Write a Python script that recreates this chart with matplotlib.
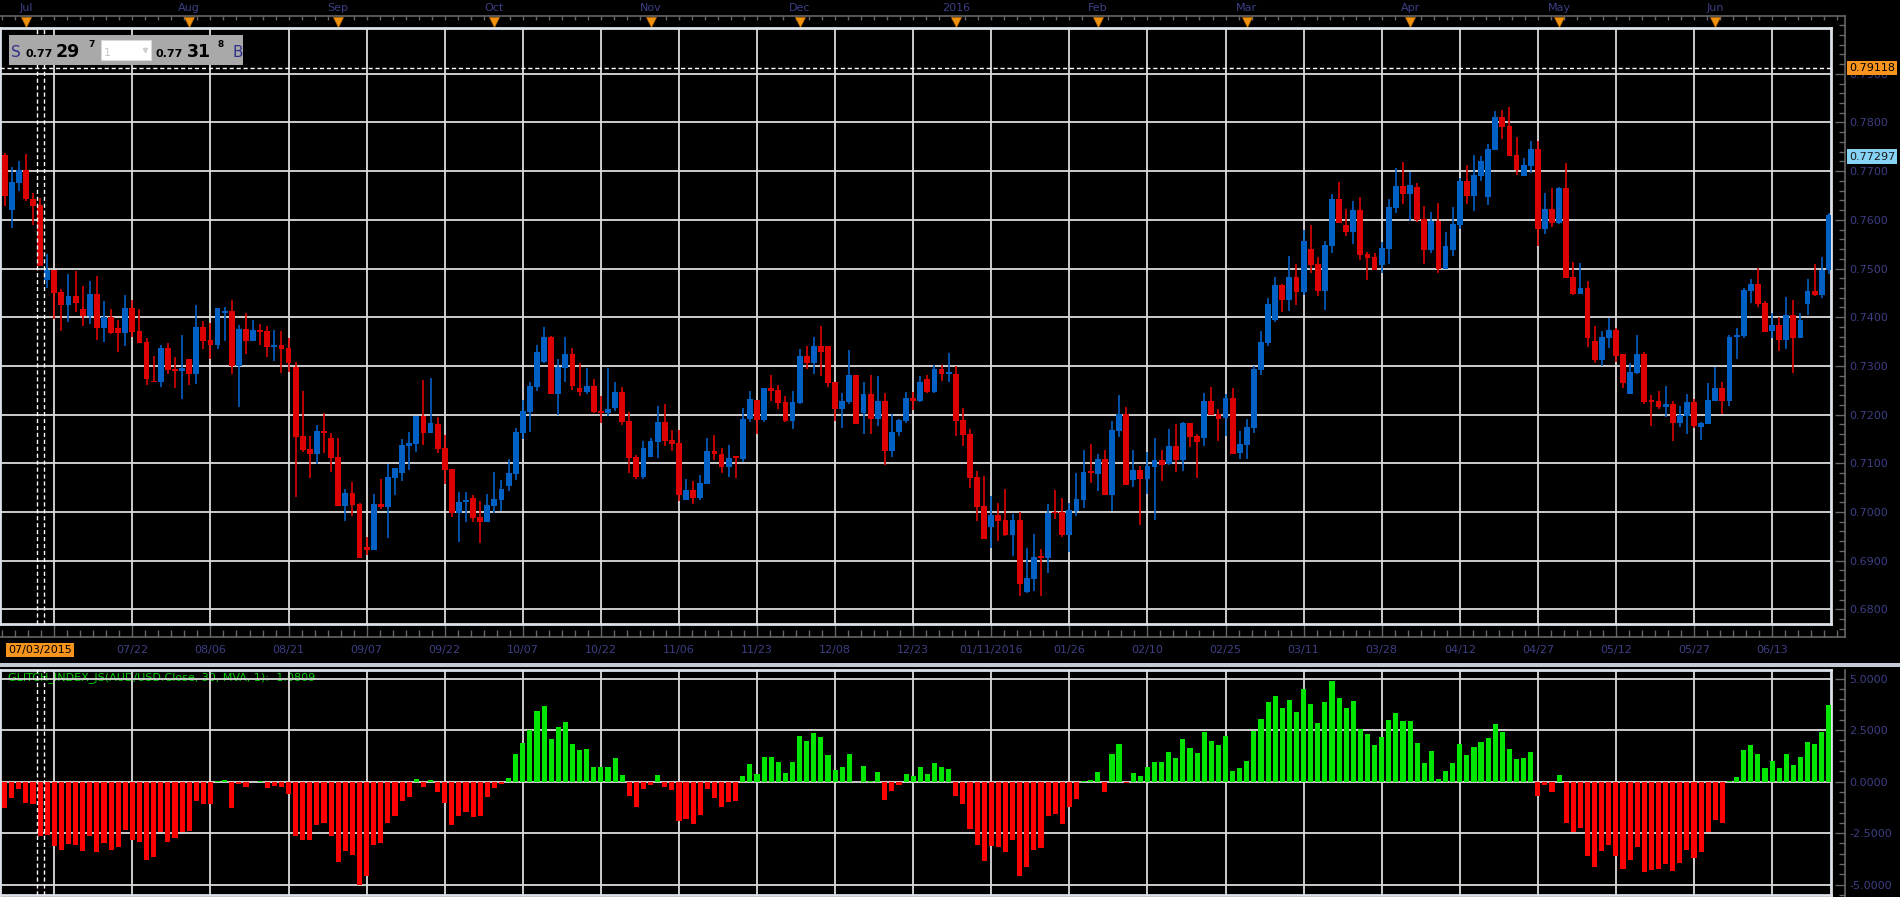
import matplotlib
matplotlib.use("Agg")
import matplotlib.pyplot as plt
import matplotlib.transforms as mtrans
from matplotlib.patches import Rectangle
from matplotlib.ticker import FixedLocator, FixedFormatter, MultipleLocator
import numpy as np
import pandas as pd

plt.rcParams['font.family'] = ['DejaVu Sans']

# trading days on the chart: weekdays, Christmas and New Year dropped
days = pd.bdate_range('2015-06-25', '2016-06-23')
days = days[~days.isin(pd.to_datetime(['2015-12-25', '2016-01-01']))]

# AUD/USD daily candles
opens = [
    0.7700, 0.7733, 0.7621, 0.7676, 0.7702, 0.7643, 0.7631, 0.7477, 0.7498, 0.7451,
    0.7426, 0.7444, 0.7416, 0.7403, 0.7448, 0.7377, 0.7401, 0.7377, 0.7367, 0.7418,
    0.7371, 0.7350, 0.7270, 0.7266, 0.7336, 0.7293, 0.7289, 0.7315, 0.7283, 0.7379,
    0.7354, 0.7342, 0.7408, 0.7412, 0.7299, 0.7375, 0.7352, 0.7373, 0.7371, 0.7338,
    0.7344, 0.7336, 0.7297, 0.7156, 0.7129, 0.7119, 0.7166, 0.7152, 0.7113, 0.7012,
    0.7039, 0.7016, 0.6928, 0.6922, 0.7016, 0.7010, 0.7070, 0.7080, 0.7135, 0.7139,
    0.7197, 0.7162, 0.7180, 0.7131, 0.7088, 0.6998, 0.7020, 0.7029, 0.6990, 0.6980,
    0.7012, 0.7025, 0.7053, 0.7078, 0.7162, 0.7205, 0.7256, 0.7309, 0.7360, 0.7242,
    0.7295, 0.7324, 0.7254, 0.7246, 0.7258, 0.7207, 0.7203, 0.7213, 0.7246, 0.7186,
    0.7113, 0.7072, 0.7113, 0.7143, 0.7184, 0.7147, 0.7141, 0.7025, 0.7045, 0.7029,
    0.7057, 0.7125, 0.7119, 0.7092, 0.7112, 0.7109, 0.7190, 0.7231, 0.7188, 0.7254,
    0.7250, 0.7225, 0.7186, 0.7223, 0.7321, 0.7305, 0.7340, 0.7340, 0.7266, 0.7211,
    0.7225, 0.7281, 0.7203, 0.7242, 0.7190, 0.7227, 0.7125, 0.7164, 0.7186, 0.7235,
    0.7229, 0.7274, 0.7246, 0.7293, 0.7284, 0.7283, 0.7188, 0.7160, 0.7072, 0.7012,
    0.6969, 0.6994, 0.6983, 0.6953, 0.6983, 0.6836, 0.6863, 0.6907, 0.6906, 0.6999,
    0.7000, 0.6953, 0.7002, 0.7025, 0.7083, 0.7078, 0.7109, 0.7035, 0.7166, 0.7201,
    0.7065, 0.7086, 0.7068, 0.7092, 0.7107, 0.7098, 0.7135, 0.7107, 0.7182, 0.7156,
    0.7152, 0.7227, 0.7201, 0.7193, 0.7235, 0.7121, 0.7137, 0.7172, 0.7291, 0.7348,
    0.7395, 0.7467, 0.7436, 0.7483, 0.7451, 0.7541, 0.7510, 0.7453, 0.7547, 0.7643,
    0.7590, 0.7575, 0.7620, 0.7530, 0.7524, 0.7508, 0.7541, 0.7625, 0.7670, 0.7653,
    0.7668, 0.7602, 0.7539, 0.7598, 0.7500, 0.7539, 0.7590, 0.7680, 0.7649, 0.7690,
    0.7647, 0.7743, 0.7811, 0.7792, 0.7733, 0.7690, 0.7711, 0.7745, 0.7582, 0.7623,
    0.7594, 0.7666, 0.7483, 0.7448, 0.7461, 0.7352, 0.7313, 0.7358, 0.7373, 0.7324,
    0.7242, 0.7285, 0.7324, 0.7228, 0.7227, 0.7215, 0.7221, 0.7182, 0.7197, 0.7225,
    0.7174, 0.7180, 0.7229, 0.7254, 0.7227, 0.7360, 0.7362, 0.7453, 0.7469, 0.7430,
    0.7371, 0.7385, 0.7354, 0.7405, 0.7358, 0.7428, 0.7453, 0.7446, 0.7496]

highs = [
    0.7736, 0.7737, 0.7709, 0.7721, 0.7735, 0.7655, 0.7644, 0.7530, 0.7498, 0.7457,
    0.7489, 0.7494, 0.7465, 0.7475, 0.7485, 0.7434, 0.7416, 0.7395, 0.7446, 0.7436,
    0.7416, 0.7358, 0.7321, 0.7342, 0.7348, 0.7319, 0.7364, 0.7315, 0.7426, 0.7393,
    0.7389, 0.7418, 0.7420, 0.7436, 0.7385, 0.7408, 0.7395, 0.7387, 0.7383, 0.7373,
    0.7371, 0.7358, 0.7309, 0.7248, 0.7156, 0.7178, 0.7203, 0.7162, 0.7152, 0.7047,
    0.7061, 0.7018, 0.6949, 0.7037, 0.7067, 0.7098, 0.7090, 0.7149, 0.7164, 0.7197,
    0.7272, 0.7276, 0.7195, 0.7158, 0.7088, 0.7041, 0.7041, 0.7035, 0.7022, 0.7037,
    0.7082, 0.7065, 0.7109, 0.7172, 0.7231, 0.7268, 0.7342, 0.7379, 0.7362, 0.7315,
    0.7360, 0.7336, 0.7305, 0.7295, 0.7274, 0.7238, 0.7295, 0.7266, 0.7256, 0.7205,
    0.7117, 0.7145, 0.7152, 0.7217, 0.7221, 0.7168, 0.7168, 0.7068, 0.7063, 0.7076,
    0.7152, 0.7158, 0.7131, 0.7137, 0.7115, 0.7213, 0.7248, 0.7231, 0.7254, 0.7281,
    0.7260, 0.7238, 0.7248, 0.7334, 0.7340, 0.7360, 0.7383, 0.7340, 0.7266, 0.7244,
    0.7332, 0.7281, 0.7268, 0.7281, 0.7279, 0.7244, 0.7201, 0.7192, 0.7246, 0.7246,
    0.7279, 0.7281, 0.7301, 0.7301, 0.7326, 0.7299, 0.7213, 0.7170, 0.7084, 0.7074,
    0.7033, 0.7018, 0.7047, 0.6996, 0.7000, 0.6926, 0.6955, 0.6924, 0.7016, 0.7045,
    0.7029, 0.7018, 0.7080, 0.7127, 0.7139, 0.7119, 0.7127, 0.7186, 0.7240, 0.7215,
    0.7127, 0.7094, 0.7123, 0.7152, 0.7127, 0.7170, 0.7180, 0.7184, 0.7182, 0.7160,
    0.7244, 0.7256, 0.7211, 0.7242, 0.7254, 0.7166, 0.7190, 0.7299, 0.7371, 0.7440,
    0.7483, 0.7469, 0.7526, 0.7510, 0.7580, 0.7590, 0.7524, 0.7557, 0.7653, 0.7678,
    0.7623, 0.7639, 0.7647, 0.7534, 0.7532, 0.7555, 0.7643, 0.7706, 0.7719, 0.7698,
    0.7676, 0.7629, 0.7616, 0.7635, 0.7575, 0.7627, 0.7686, 0.7713, 0.7733, 0.7731,
    0.7756, 0.7823, 0.7825, 0.7831, 0.7770, 0.7727, 0.7762, 0.7762, 0.7655, 0.7666,
    0.7668, 0.7717, 0.7514, 0.7512, 0.7475, 0.7383, 0.7371, 0.7399, 0.7377, 0.7324,
    0.7307, 0.7364, 0.7328, 0.7240, 0.7248, 0.7258, 0.7227, 0.7217, 0.7242, 0.7233,
    0.7184, 0.7264, 0.7297, 0.7266, 0.7364, 0.7377, 0.7461, 0.7479, 0.7502, 0.7434,
    0.7408, 0.7401, 0.7442, 0.7436, 0.7408, 0.7479, 0.7510, 0.7524, 0.7614]

lows = [
    0.7695, 0.7629, 0.7584, 0.7659, 0.7638, 0.7590, 0.7506, 0.7461, 0.7397, 0.7371,
    0.7391, 0.7410, 0.7383, 0.7387, 0.7354, 0.7350, 0.7366, 0.7328, 0.7340, 0.7360,
    0.7348, 0.7260, 0.7266, 0.7256, 0.7283, 0.7254, 0.7233, 0.7260, 0.7262, 0.7334,
    0.7315, 0.7334, 0.7352, 0.7283, 0.7215, 0.7324, 0.7352, 0.7344, 0.7319, 0.7311,
    0.7285, 0.7287, 0.7031, 0.7123, 0.7070, 0.7098, 0.7121, 0.7082, 0.7012, 0.6981,
    0.6992, 0.6906, 0.6912, 0.6922, 0.7006, 0.6947, 0.7035, 0.7063, 0.7086, 0.7123,
    0.7137, 0.7162, 0.7121, 0.7057, 0.6990, 0.6939, 0.6979, 0.6979, 0.6937, 0.6980,
    0.6998, 0.7002, 0.7043, 0.7065, 0.7149, 0.7164, 0.7248, 0.7305, 0.7242, 0.7199,
    0.7266, 0.7250, 0.7238, 0.7242, 0.7203, 0.7182, 0.7197, 0.7207, 0.7178, 0.7080,
    0.7068, 0.7068, 0.7113, 0.7111, 0.7135, 0.7125, 0.7023, 0.7025, 0.7016, 0.7025,
    0.7057, 0.7107, 0.7080, 0.7072, 0.7070, 0.7103, 0.7184, 0.7160, 0.7184, 0.7227,
    0.7211, 0.7184, 0.7170, 0.7221, 0.7293, 0.7283, 0.7279, 0.7256, 0.7186, 0.7172,
    0.7221, 0.7180, 0.7160, 0.7160, 0.7176, 0.7096, 0.7113, 0.7156, 0.7182, 0.7209,
    0.7225, 0.7244, 0.7244, 0.7270, 0.7266, 0.7156, 0.7135, 0.7049, 0.6981, 0.6945,
    0.6926, 0.6941, 0.6951, 0.6910, 0.6828, 0.6834, 0.6838, 0.6828, 0.6875, 0.6986,
    0.6949, 0.6918, 0.6992, 0.7008, 0.7059, 0.7043, 0.7035, 0.7002, 0.7154, 0.7055,
    0.7051, 0.6973, 0.7037, 0.6984, 0.7063, 0.7096, 0.7082, 0.7084, 0.7133, 0.7070,
    0.7135, 0.7199, 0.7145, 0.7156, 0.7119, 0.7109, 0.7109, 0.7162, 0.7281, 0.7340,
    0.7391, 0.7410, 0.7412, 0.7426, 0.7446, 0.7491, 0.7444, 0.7414, 0.7532, 0.7594,
    0.7567, 0.7551, 0.7518, 0.7477, 0.7498, 0.7491, 0.7510, 0.7614, 0.7633, 0.7598,
    0.7596, 0.7510, 0.7532, 0.7491, 0.7500, 0.7526, 0.7582, 0.7633, 0.7618, 0.7680,
    0.7631, 0.7743, 0.7766, 0.7731, 0.7692, 0.7690, 0.7696, 0.7547, 0.7571, 0.7586,
    0.7592, 0.7481, 0.7446, 0.7448, 0.7338, 0.7307, 0.7299, 0.7336, 0.7309, 0.7254,
    0.7242, 0.7283, 0.7221, 0.7176, 0.7211, 0.7195, 0.7145, 0.7174, 0.7160, 0.7172,
    0.7147, 0.7180, 0.7227, 0.7201, 0.7217, 0.7315, 0.7358, 0.7430, 0.7420, 0.7369,
    0.7358, 0.7330, 0.7334, 0.7285, 0.7358, 0.7405, 0.7444, 0.7440, 0.7489]

closes = [
    0.7733, 0.7650, 0.7678, 0.7702, 0.7642, 0.7629, 0.7506, 0.7498, 0.7449, 0.7426,
    0.7444, 0.7430, 0.7403, 0.7448, 0.7377, 0.7401, 0.7367, 0.7367, 0.7418, 0.7369,
    0.7348, 0.7274, 0.7266, 0.7336, 0.7291, 0.7289, 0.7295, 0.7283, 0.7379, 0.7352,
    0.7342, 0.7418, 0.7412, 0.7299, 0.7375, 0.7352, 0.7373, 0.7369, 0.7338, 0.7344,
    0.7334, 0.7307, 0.7154, 0.7127, 0.7119, 0.7166, 0.7162, 0.7111, 0.7012, 0.7039,
    0.7014, 0.6906, 0.6922, 0.7016, 0.7010, 0.7072, 0.7090, 0.7137, 0.7141, 0.7197,
    0.7162, 0.7182, 0.7129, 0.7086, 0.6998, 0.7020, 0.7021, 0.6988, 0.6980, 0.7014,
    0.7027, 0.7047, 0.7080, 0.7164, 0.7207, 0.7258, 0.7328, 0.7360, 0.7242, 0.7297,
    0.7324, 0.7258, 0.7246, 0.7258, 0.7205, 0.7203, 0.7211, 0.7246, 0.7184, 0.7111,
    0.7072, 0.7131, 0.7145, 0.7184, 0.7145, 0.7139, 0.7035, 0.7045, 0.7029, 0.7059,
    0.7125, 0.7119, 0.7092, 0.7111, 0.7110, 0.7192, 0.7233, 0.7188, 0.7254, 0.7248,
    0.7223, 0.7186, 0.7225, 0.7321, 0.7305, 0.7340, 0.7328, 0.7264, 0.7211, 0.7227,
    0.7281, 0.7180, 0.7242, 0.7190, 0.7227, 0.7125, 0.7164, 0.7188, 0.7235, 0.7229,
    0.7268, 0.7246, 0.7293, 0.7283, 0.7286, 0.7186, 0.7158, 0.7070, 0.7010, 0.6945,
    0.6994, 0.6982, 0.6953, 0.6983, 0.6852, 0.6865, 0.6908, 0.6905, 0.6998, 0.6997,
    0.6953, 0.7004, 0.7027, 0.7082, 0.7081, 0.7109, 0.7035, 0.7168, 0.7201, 0.7055,
    0.7086, 0.7068, 0.7094, 0.7107, 0.7096, 0.7135, 0.7107, 0.7182, 0.7154, 0.7143,
    0.7227, 0.7199, 0.7192, 0.7235, 0.7119, 0.7139, 0.7174, 0.7293, 0.7350, 0.7428,
    0.7467, 0.7436, 0.7483, 0.7451, 0.7557, 0.7508, 0.7453, 0.7549, 0.7643, 0.7594,
    0.7575, 0.7620, 0.7528, 0.7522, 0.7498, 0.7543, 0.7627, 0.7670, 0.7653, 0.7672,
    0.7600, 0.7539, 0.7598, 0.7500, 0.7547, 0.7592, 0.7680, 0.7649, 0.7692, 0.7721,
    0.7745, 0.7811, 0.7790, 0.7731, 0.7702, 0.7713, 0.7745, 0.7582, 0.7623, 0.7594,
    0.7666, 0.7481, 0.7448, 0.7461, 0.7358, 0.7313, 0.7360, 0.7373, 0.7321, 0.7264,
    0.7287, 0.7324, 0.7225, 0.7226, 0.7215, 0.7221, 0.7182, 0.7199, 0.7225, 0.7176,
    0.7182, 0.7231, 0.7254, 0.7227, 0.7360, 0.7364, 0.7455, 0.7469, 0.7428, 0.7369,
    0.7385, 0.7354, 0.7405, 0.7358, 0.7395, 0.7453, 0.7446, 0.7498, 0.7610]

# GLITCH_INDEX_JS(AUD/USD.Close, 30, MVA, 1)
glitch = [
    0.25, -1.28, -0.79, -0.37, -1.05, -1.08, -2.64, -2.61, -3.12, -3.32,
    -3.03, -3.07, -3.37, -2.64, -3.41, -2.99, -3.32, -3.17, -2.35, -2.83,
    -2.91, -3.80, -3.67, -2.43, -2.93, -2.72, -2.43, -2.39, -0.95, -1.08,
    -1.08, 0.03, 0.07, -1.28, -0.10, -0.26, -0.03, 0.05, -0.29, -0.21,
    -0.26, -0.60, -2.64, -2.85, -2.83, -2.10, -2.01, -2.64, -3.90, -3.37,
    -3.58, -5.02, -4.58, -3.07, -2.99, -2.01, -1.67, -0.95, -0.76, 0.11,
    -0.26, 0.06, -0.50, -1.02, -2.12, -1.67, -1.49, -1.72, -1.67, -0.76,
    -0.31, -0.10, 0.16, 1.33, 1.89, 2.52, 3.41, 3.69, 2.06, 2.64,
    2.88, 1.84, 1.52, 1.59, 0.73, 0.70, 0.70, 1.13, 0.32, -0.70,
    -1.23, -0.36, -0.18, 0.32, -0.26, -0.42, -1.91, -1.83, -2.05, -1.62,
    -0.37, -0.78, -1.23, -0.99, -0.95, 0.28, 0.84, 0.36, 1.18, 1.18,
    0.94, 0.40, 0.94, 2.20, 1.96, 2.35, 2.15, 1.28, 0.55, 0.70,
    1.33, -0.03, 0.74, 0.02, 0.45, -0.89, -0.47, -0.16, 0.36, 0.28,
    0.70, 0.36, 0.89, 0.70, 0.60, -0.70, -1.09, -2.32, -3.08, -3.86,
    -3.12, -3.15, -3.43, -2.84, -4.56, -4.16, -3.33, -3.20, -1.67, -1.57,
    -2.06, -1.23, -0.84, 0.02, 0.06, 0.45, -0.50, 1.33, 1.82, -0.08,
    0.41, 0.28, 0.70, 0.94, 0.94, 1.43, 1.14, 2.06, 1.62, 1.38,
    2.40, 1.96, 1.77, 2.21, 0.50, 0.65, 0.99, 2.45, 3.04, 3.86,
    4.16, 3.57, 3.96, 3.38, 4.50, 3.77, 2.84, 3.86, 4.89, 4.06,
    3.57, 3.91, 2.55, 2.31, 1.77, 2.16, 2.99, 3.33, 2.94, 2.94,
    1.87, 0.89, 1.48, 0.11, 0.50, 0.89, 1.82, 1.28, 1.67, 1.92,
    2.11, 2.79, 2.40, 1.57, 1.09, 1.14, 1.43, -0.70, -0.16, -0.50,
    0.31, -2.01, -2.45, -2.26, -3.62, -4.16, -3.38, -3.08, -3.62, -4.25,
    -3.81, -3.18, -4.40, -4.30, -4.25, -4.01, -4.35, -3.96, -3.33, -3.72,
    -3.43, -2.45, -1.87, -2.01, 0.02, 0.21, 1.53, 1.77, 1.33, 0.65,
    0.99, 0.65, 1.33, 0.80, 1.19, 1.92, 1.82, 2.40, 3.72]

price_ticks = [0.68, 0.69, 0.70, 0.71, 0.72, 0.73, 0.74, 0.75, 0.76, 0.77, 0.78, 0.79]
glitch_ticks = [-5.0, -2.5, 0.0, 2.5, 5.0]
crosshair_day = '2015-07-03'
marker_price = 0.79118   # orange level
last_price = 0.77297     # blue quote box
legend_text = 'GLITCH_INDEX_JS(AUD/USD.Close, 30, MVA, 1): -1.0809'

assert len(days) == len(opens) == len(highs) == len(lows) == len(closes) == len(glitch)

# ---------------------------------------------------------------- layout
W, H = 1900, 897
BG = 'black'
NAVY = '#3d3f85'
AXGRAY = '#666666'
FRAME = '#dde2ea'
GRID = '#dcdcdc'
UP, DOWN = '#0060c4', '#dd0000'
G_UP, G_DN = '#00e600', '#ff0000'

XLIM = (0.35, 258.3)
YLIM = (0.6770, 0.7994)
GLIM = (-5.50, 5.42)

fig = plt.figure(figsize=(W / 100, H / 100), dpi=100, facecolor=BG)


def px_box(left, top, right, bottom):
    return [left / W, 1 - bottom / H, (right - left) / W, (bottom - top) / H]


ov = fig.add_axes([0, 0, 1, 1], zorder=10)
ov.set_xlim(0, W)
ov.set_ylim(H, 0)
ov.axis('off')
ov.patch.set_visible(False)

main_px = (0, 28, 1831, 624)
x_ppu = (main_px[2] - main_px[0]) / (XLIM[1] - XLIM[0])
y_ppu = (main_px[3] - main_px[1]) / (YLIM[1] - YLIM[0])

fr = fig.add_axes(px_box(0, 16, 1845, 637), zorder=0)
ax = fig.add_axes(px_box(*main_px), zorder=1)
lfr = fig.add_axes(px_box(0, 670, 1845, 897), zorder=0)
lo = fig.add_axes(px_box(0, 670, 1831, 895), zorder=1)
g_ppu = (895 - 670) / (GLIM[1] - GLIM[0])

idx = np.arange(len(days))
o, h, l, c = map(np.array, (opens, highs, lows, closes))
g = np.array(glitch)
grid_idx = np.arange(8, len(days), 11)
minor_idx = np.arange(8 - 11, len(days) + 3, 11 / 6)
cross_i = int(np.where(days == pd.Timestamp(crosshair_day))[0][0])

# ---------------------------------------------------------------- candles
col = np.where(c >= o, UP, DOWN)
ax.vlines(idx, l, h, colors=col, lw=1.2, zorder=2)
ax.bar(idx, np.maximum(np.abs(c - o), 0.0004), bottom=np.minimum(o, c),
       width=0.82, color=col, lw=0, zorder=3)

ax.set_facecolor(BG)
ax.set_xticks(grid_idx)
ax.set_yticks(price_ticks)
ax.tick_params(length=0, labelbottom=False, labelleft=False)
ax.grid(True, color=GRID, lw=1.3)
ax.set_axisbelow(True)
for s in ax.spines.values():
    s.set_color(FRAME)
    s.set_linewidth(2.0)
ax.axhline(marker_price, color='white', lw=1, ls=(0, (3, 2)), zorder=4)

# ---------------------------------------------------------------- glitch bars
lo.bar(idx, g, width=0.72, color=np.where(g >= 0, G_UP, G_DN), lw=0, zorder=3)
lo.set_facecolor(BG)
lo.set_xticks(grid_idx)
lo.set_yticks(glitch_ticks)
lo.tick_params(length=0, labelbottom=False, labelleft=False)
lo.grid(True, color=GRID, lw=1.3)
lo.set_axisbelow(True)
for s in lo.spines.values():
    s.set_color(FRAME)
    s.set_linewidth(2.0)
lo.text(8, 678, legend_text, transform=ov.transData, color='#00d000',
        fontsize=8, va='center', ha='left', zorder=0.5)

for a in (ax, lo):
    for dx in (-0.4, 0.6):
        a.axvline(cross_i + dx, color='white', lw=1, ls=(0, (3, 2)), zorder=4)

# ---------------------------------------------------------------- outer price axis
fr.set_facecolor(BG)
fr.spines['left'].set_visible(False)
for k in ('top', 'right', 'bottom'):
    fr.spines[k].set_color(AXGRAY)
    fr.spines[k].set_linewidth(1.2)
fr.yaxis.tick_right()
fr.yaxis.set_major_locator(FixedLocator(price_ticks))
fr.yaxis.set_major_formatter(FixedFormatter(['%.4f' % v for v in price_ticks]))
fr.yaxis.set_minor_locator(MultipleLocator(0.002))
fr.tick_params(axis='y', which='major', direction='in', length=7, width=1,
               color=AXGRAY, labelcolor=NAVY, labelsize=8, pad=3)
fr.tick_params(axis='y', which='minor', direction='in', length=4, width=1, color=AXGRAY)

date_labels = []
for k, gi in enumerate(grid_idx):
    d = days[gi]
    if k == 0:
        date_labels.append('')
    elif d.year != days[grid_idx[k - 1]].year:
        date_labels.append(d.strftime('%m/%d/%Y'))
    else:
        date_labels.append(d.strftime('%m/%d'))
fr.xaxis.set_major_locator(FixedLocator(grid_idx))
fr.xaxis.set_major_formatter(FixedFormatter(date_labels))
fr.xaxis.set_minor_locator(FixedLocator(minor_idx))
fr.tick_params(axis='x', which='major', direction='in', length=11, width=1,
               color=AXGRAY, labelcolor=NAVY, labelsize=8, pad=6)
fr.tick_params(axis='x', which='minor', direction='in', length=5, width=1, color=AXGRAY)

px_x = mtrans.blended_transform_factory(fr.transData, ov.transData)
x_end = XLIM[0] + 1845 / x_ppu
top_ticks = minor_idx[(minor_idx > XLIM[0]) & (minor_idx < x_end)]
fr.vlines(top_ticks, 16, 20, transform=px_x, colors=AXGRAY, lw=1, clip_on=False)

month_idx = [i for i in range(1, len(days)) if days[i].month != days[i - 1].month]
for i in month_idx:
    lab = days[i].strftime('%Y') if days[i].month == 1 else days[i].strftime('%b')
    fr.text(i, 8, lab, transform=px_x, ha='center', va='center', color=NAVY, fontsize=8)
fr.plot(month_idx, [22] * len(month_idx), ls='none', marker='v', ms=7,
        color='#f0920e', mec='#b86a00', mew=0.5, transform=px_x, clip_on=False)

fr.text(cross_i, 650, days[cross_i].strftime('%m/%d/%Y'), transform=px_x,
        ha='center', va='center', fontsize=8, color='black',
        bbox=dict(boxstyle='square,pad=0.2', fc='#f7941d', ec='none'))

# ---------------------------------------------------------------- lower outer axis
lfr.set_facecolor(BG)
for k in ('left', 'top', 'bottom'):
    lfr.spines[k].set_visible(False)
lfr.spines['right'].set_color(AXGRAY)
lfr.spines['right'].set_linewidth(1.2)
lfr.set_xticks([])
lfr.yaxis.tick_right()
lfr.yaxis.set_major_locator(FixedLocator(glitch_ticks))
lfr.yaxis.set_major_formatter(FixedFormatter(['%.4f' % v for v in glitch_ticks]))
lfr.yaxis.set_minor_locator(MultipleLocator(0.5))
lfr.tick_params(axis='y', which='major', direction='in', length=7, width=1,
                color=AXGRAY, labelcolor=NAVY, labelsize=8, pad=3)
lfr.tick_params(axis='y', which='minor', direction='in', length=4, width=1, color=AXGRAY)

# separator band between panels
fig.add_artist(Rectangle((0, 1 - 667 / H), 1, 4 / H, transform=fig.transFigure,
                         fc='#c3cad3', ec='none'))

# ---------------------------------------------------------------- quote boxes
px_y = mtrans.blended_transform_factory(ov.transData, ax.transData)
ov.text(1849, marker_price, '%.5f' % marker_price, transform=px_y, fontsize=8,
        va='center', ha='left', color='black',
        bbox=dict(boxstyle='square,pad=0.2', fc='#f7941d', ec='none'))
ov.text(1849, last_price, '%.5f' % last_price, transform=px_y, fontsize=8,
        va='center', ha='left', color='#1a1a1a',
        bbox=dict(boxstyle='square,pad=0.2', fc='#86d3f5', ec='none'))

# bid / ask header
ov.add_patch(Rectangle((9, 35), 234, 30, fc='#a9a9a9', ec='none'))
ov.text(11, 57, 'S', color='#30308a', fontsize=11, va='baseline')
ov.text(26, 57, '0.77', color='black', fontsize=8, weight='bold', va='baseline')
ov.text(56, 57, '29', color='black', fontsize=12.5, weight='bold', va='baseline')
ov.text(88, 47, '7', color='black', fontsize=6.5, weight='bold', va='baseline')
ov.add_patch(Rectangle((101, 40), 50, 20, fc='white', ec='#d8d8d8', lw=0.8))
ov.text(104, 56, '1', color='#c8c8c8', fontsize=8, va='baseline')
ov.plot([145], [50], marker='v', ms=3, color='#cfcfcf')
ov.text(156, 57, '0.77', color='black', fontsize=8, weight='bold', va='baseline')
ov.text(187, 57, '31', color='black', fontsize=12.5, weight='bold', va='baseline')
ov.text(218, 47, '8', color='black', fontsize=6.5, weight='bold', va='baseline')
ov.text(232, 57, 'B', color='#30308a', fontsize=11, va='baseline')

# limits last so nothing above changes them
ax.set_xlim(*XLIM)
ax.set_ylim(*YLIM)
lo.set_xlim(*XLIM)
lo.set_ylim(*GLIM)
fr.set_xlim(XLIM[0], x_end)
fr.set_ylim(YLIM[0] - (637 - 624) / y_ppu, YLIM[1] + (28 - 16) / y_ppu)
lfr.set_xlim(*XLIM)
lfr.set_ylim(GLIM[0] - (897 - 895) / g_ppu, GLIM[1])

fig.savefig('out.png', dpi=100, facecolor=BG)
